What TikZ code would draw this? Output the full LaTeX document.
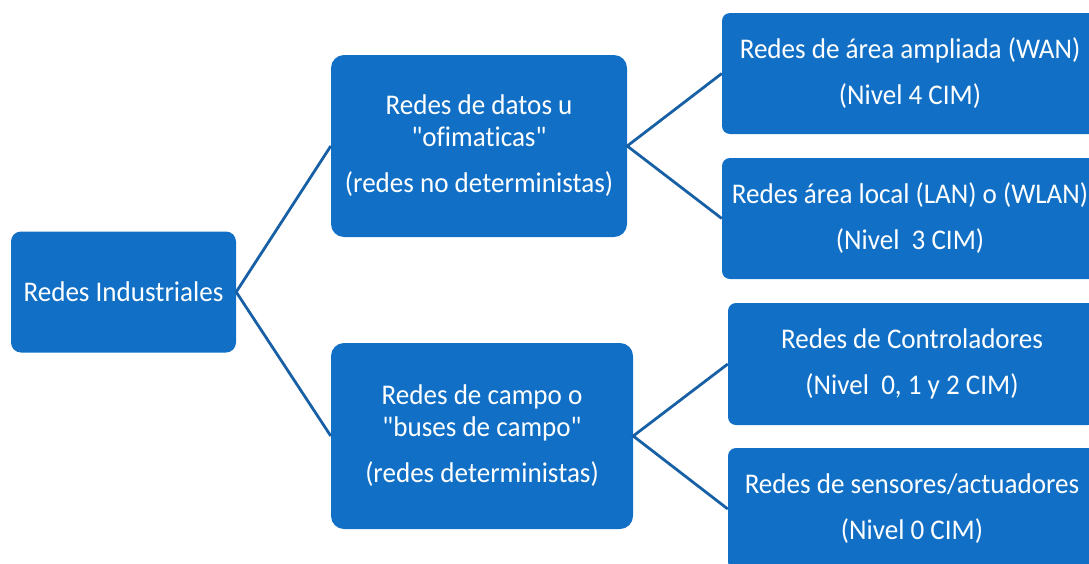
\documentclass[tikz,border=0pt]{standalone}
\usepackage{fontspec}
\setmainfont{Carlito}[FakeStretch=0.95, Ligatures={TeXOff,CommonOff}]
\definecolor{boxblue}{RGB}{17,112,198}
\definecolor{linkblue}{RGB}{24,96,166}
\begin{document}
\begin{tikzpicture}[x=1pt,y=-1pt,
  box/.style={fill=boxblue, rounded corners=10pt, text=white, align=center,
    inner sep=0pt, font=\fontsize{28.5}{32}\selectfont},
  midbox/.style={box, rounded corners=13pt},
  leafbox/.style={box, rounded corners=8pt, minimum height=121pt},
  link/.style={draw=linkblue, line width=2.8pt}]
\useasboundingbox (0,0) rectangle (1089,563);
\node[box, minimum width=225pt, minimum height=121pt] (root) at (123.5,292) {Redes Industriales};
\node[midbox, minimum width=296pt, minimum height=182pt] (dat) at (479,146)
  {Redes de datos u\\"ofimaticas"\\[14pt](redes no deterministas)};
\node[midbox, minimum width=302pt, minimum height=186pt] (cam) at (482,436)
  {Redes de campo o\\"buses de campo"\\[14pt](redes deterministas)};
\node[leafbox, minimum width=376pt] (wan) at (910,73.5)
  {Redes de área ampliada (WAN)\\[14pt](Nivel 4 CIM)};
\node[leafbox, minimum width=376pt] (lan) at (910,218.5)
  {Redes área local (LAN) o (WLAN)\\[14pt](Nivel\ \ 3 CIM)};
\node[leafbox, minimum width=368pt, minimum height=122pt] (ctl) at (912,364)
  {Redes de Controladores\\[14pt](Nivel\ \ 0, 1 y 2 CIM)};
\node[leafbox, minimum width=368pt, minimum height=122pt] (sen) at (912,509)
  {Redes de sensores/actuadores\\[14pt](Nivel 0 CIM)};
\draw[link] (dat.west) -- (root.east) -- (cam.west);
\draw[link] (wan.west) -- (dat.east) -- (lan.west);
\draw[link] (ctl.west) -- (cam.east) -- (sen.west);
\end{tikzpicture}
\end{document}
